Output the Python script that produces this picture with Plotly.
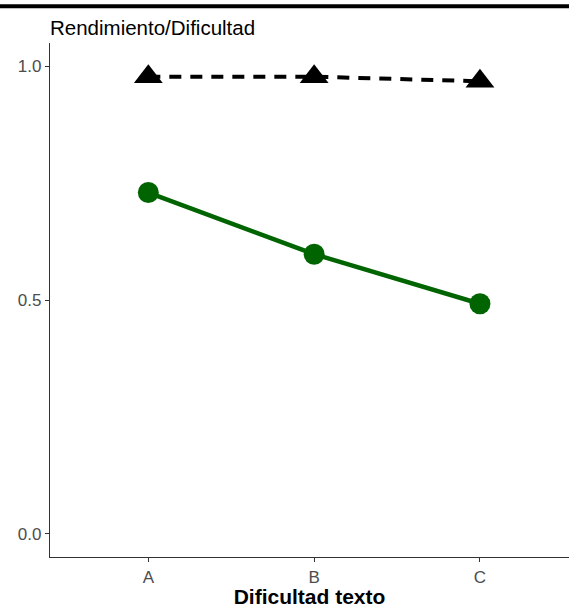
import plotly.graph_objects as go

categories = ["A", "B", "C"]
rendimiento = [0.73, 0.598, 0.492]
dificultad = [0.978, 0.978, 0.968]
y_ticks = [0.0, 0.5, 1.0]
y_tick_labels = ["0.0", "0.5", "1.0"]

fig = go.Figure()
fig.add_trace(go.Scatter(
    x=categories, y=dificultad, mode="lines+markers",
    line=dict(color="black", width=4, dash="12px,9px"),
    marker=dict(symbol="triangle-up", size=25, color="black"),
    showlegend=False, cliponaxis=False,
))
fig.add_trace(go.Scatter(
    x=categories, y=rendimiento, mode="lines+markers",
    line=dict(color="#006400", width=4.5),
    marker=dict(symbol="circle", size=21, color="#006400"),
    showlegend=False, cliponaxis=False,
))

fig.update_layout(
    width=569, height=608,
    margin=dict(l=50, r=0, t=43, b=51),
    paper_bgcolor="white", plot_bgcolor="white",
    font=dict(family="Liberation Sans, Arial, sans-serif"),
    showlegend=False,
    xaxis=dict(
        type="category", categoryorder="array", categoryarray=categories,
        range=[-0.593, 2.537],
        showline=True, linecolor="#333333", linewidth=1.4,
        ticks="outside", ticklen=4, tickcolor="#333333", tickwidth=1,
        tickfont=dict(size=17, color="#4D4D4D"),
        showgrid=False, zeroline=False,
        title=dict(text="<b>Dificultad texto</b>", font=dict(size=21, color="black"), standoff=3),
    ),
    yaxis=dict(
        range=[-0.05, 1.05],
        tickvals=y_ticks, ticktext=y_tick_labels,
        showline=True, linecolor="#333333", linewidth=1.4,
        ticks="outside", ticklen=4, tickcolor="#333333", tickwidth=1,
        tickfont=dict(size=17, color="#4D4D4D"),
        showgrid=False, zeroline=False,
    ),
    shapes=[dict(type="line", xref="paper", yref="paper", x0=-0.1, x1=1.0,
                 y0=1.0715, y1=1.0715, line=dict(color="black", width=4))],
    annotations=[dict(text="Rendimiento/Dificultad", xref="paper", yref="paper",
                      x=0.0, y=1.004, xanchor="left", yanchor="bottom", showarrow=False,
                      xshift=-2, font=dict(size=20.5, color="black"))],
)

fig.write_html("out.html", config={"displayModeBar": False},
               post_script="document.body.style.margin='0';document.body.style.overflow='hidden';")
